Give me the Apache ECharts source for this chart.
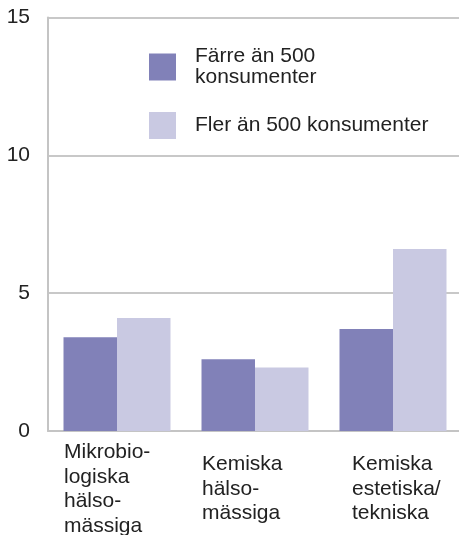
<!DOCTYPE html>
<html>
<head>
<meta charset="utf-8">
<script src="https://cdn.jsdelivr.net/npm/echarts@6/dist/echarts.min.js"></script>
<style>
html,body{margin:0;padding:0;background:#fff;}
#chart{width:459px;height:535px;}
</style>
</head>
<body>
<div id="chart"></div>
<script>
const categories = ['Mikrobio-\nlogiska\nhälso-\nmässiga', 'Kemiska\nhälso-\nmässiga', 'Kemiska\nestetiska/\ntekniska'];
const labelShift = [-53, -53, -41];
const seriesNames = ['Färre än 500\nkonsumenter', 'Fler än 500 konsumenter'];
const fewerValues = [3.4, 2.6, 3.7];
const moreValues = [4.1, 2.3, 6.6];
const yTicks = [0, 5, 10, 15];

const FONT = '"Liberation Sans", Arial, sans-serif';
const chart = echarts.init(document.getElementById('chart'), null, {renderer: 'canvas'});
chart.setOption({
  animation: false,
  backgroundColor: '#fff',
  grid: {left: 48, top: 17.5, right: -3, bottom: 104, containLabel: false, outerBoundsMode: 'none'},
  legend: {
    orient: 'vertical',
    left: 144,
    top: 40,
    itemWidth: 27,
    itemHeight: 27,
    itemGap: 23,
    icon: 'rect',
    data: seriesNames,
    textStyle: {fontFamily: FONT, fontSize: 21, color: '#222', lineHeight: 21, padding: [2, 0, 0, 14]}
  },
  xAxis: {
    type: 'category',
    data: categories.map((c, i) => ({value: c, textStyle: {align: 'left', verticalAlign: 'middle', padding: [0, 0, 0, labelShift[i]]}})),
    axisLine: {show: true, lineStyle: {color: '#c4c4c4', width: 2}},
    axisTick: {show: false},
    axisLabel: {
      interval: 0,
      align: 'left',
      verticalAlign: 'middle',
      margin: 58,
      fontFamily: FONT,
      fontSize: 21,
      lineHeight: 24.5,
      color: '#222'
    }
  },
  yAxis: {
    type: 'value',
    min: yTicks[0],
    max: yTicks[yTicks.length - 1],
    interval: 5,
    axisLine: {show: true, lineStyle: {color: '#c4c4c4', width: 2}},
    axisTick: {show: false},
    splitLine: {show: true, lineStyle: {color: '#c8c8c8', width: 2}},
    axisLabel: {margin: 18, fontFamily: FONT, fontSize: 21, color: '#222'}
  },
  series: [
    {name: seriesNames[0], type: 'bar', data: fewerValues, barWidth: 53.5, barGap: 0, itemStyle: {color: '#8181b8'}},
    {name: seriesNames[1], type: 'bar', data: moreValues, barWidth: 53.5, barGap: 0, itemStyle: {color: '#c9c9e2'}}
  ]
});
</script>
</body>
</html>
